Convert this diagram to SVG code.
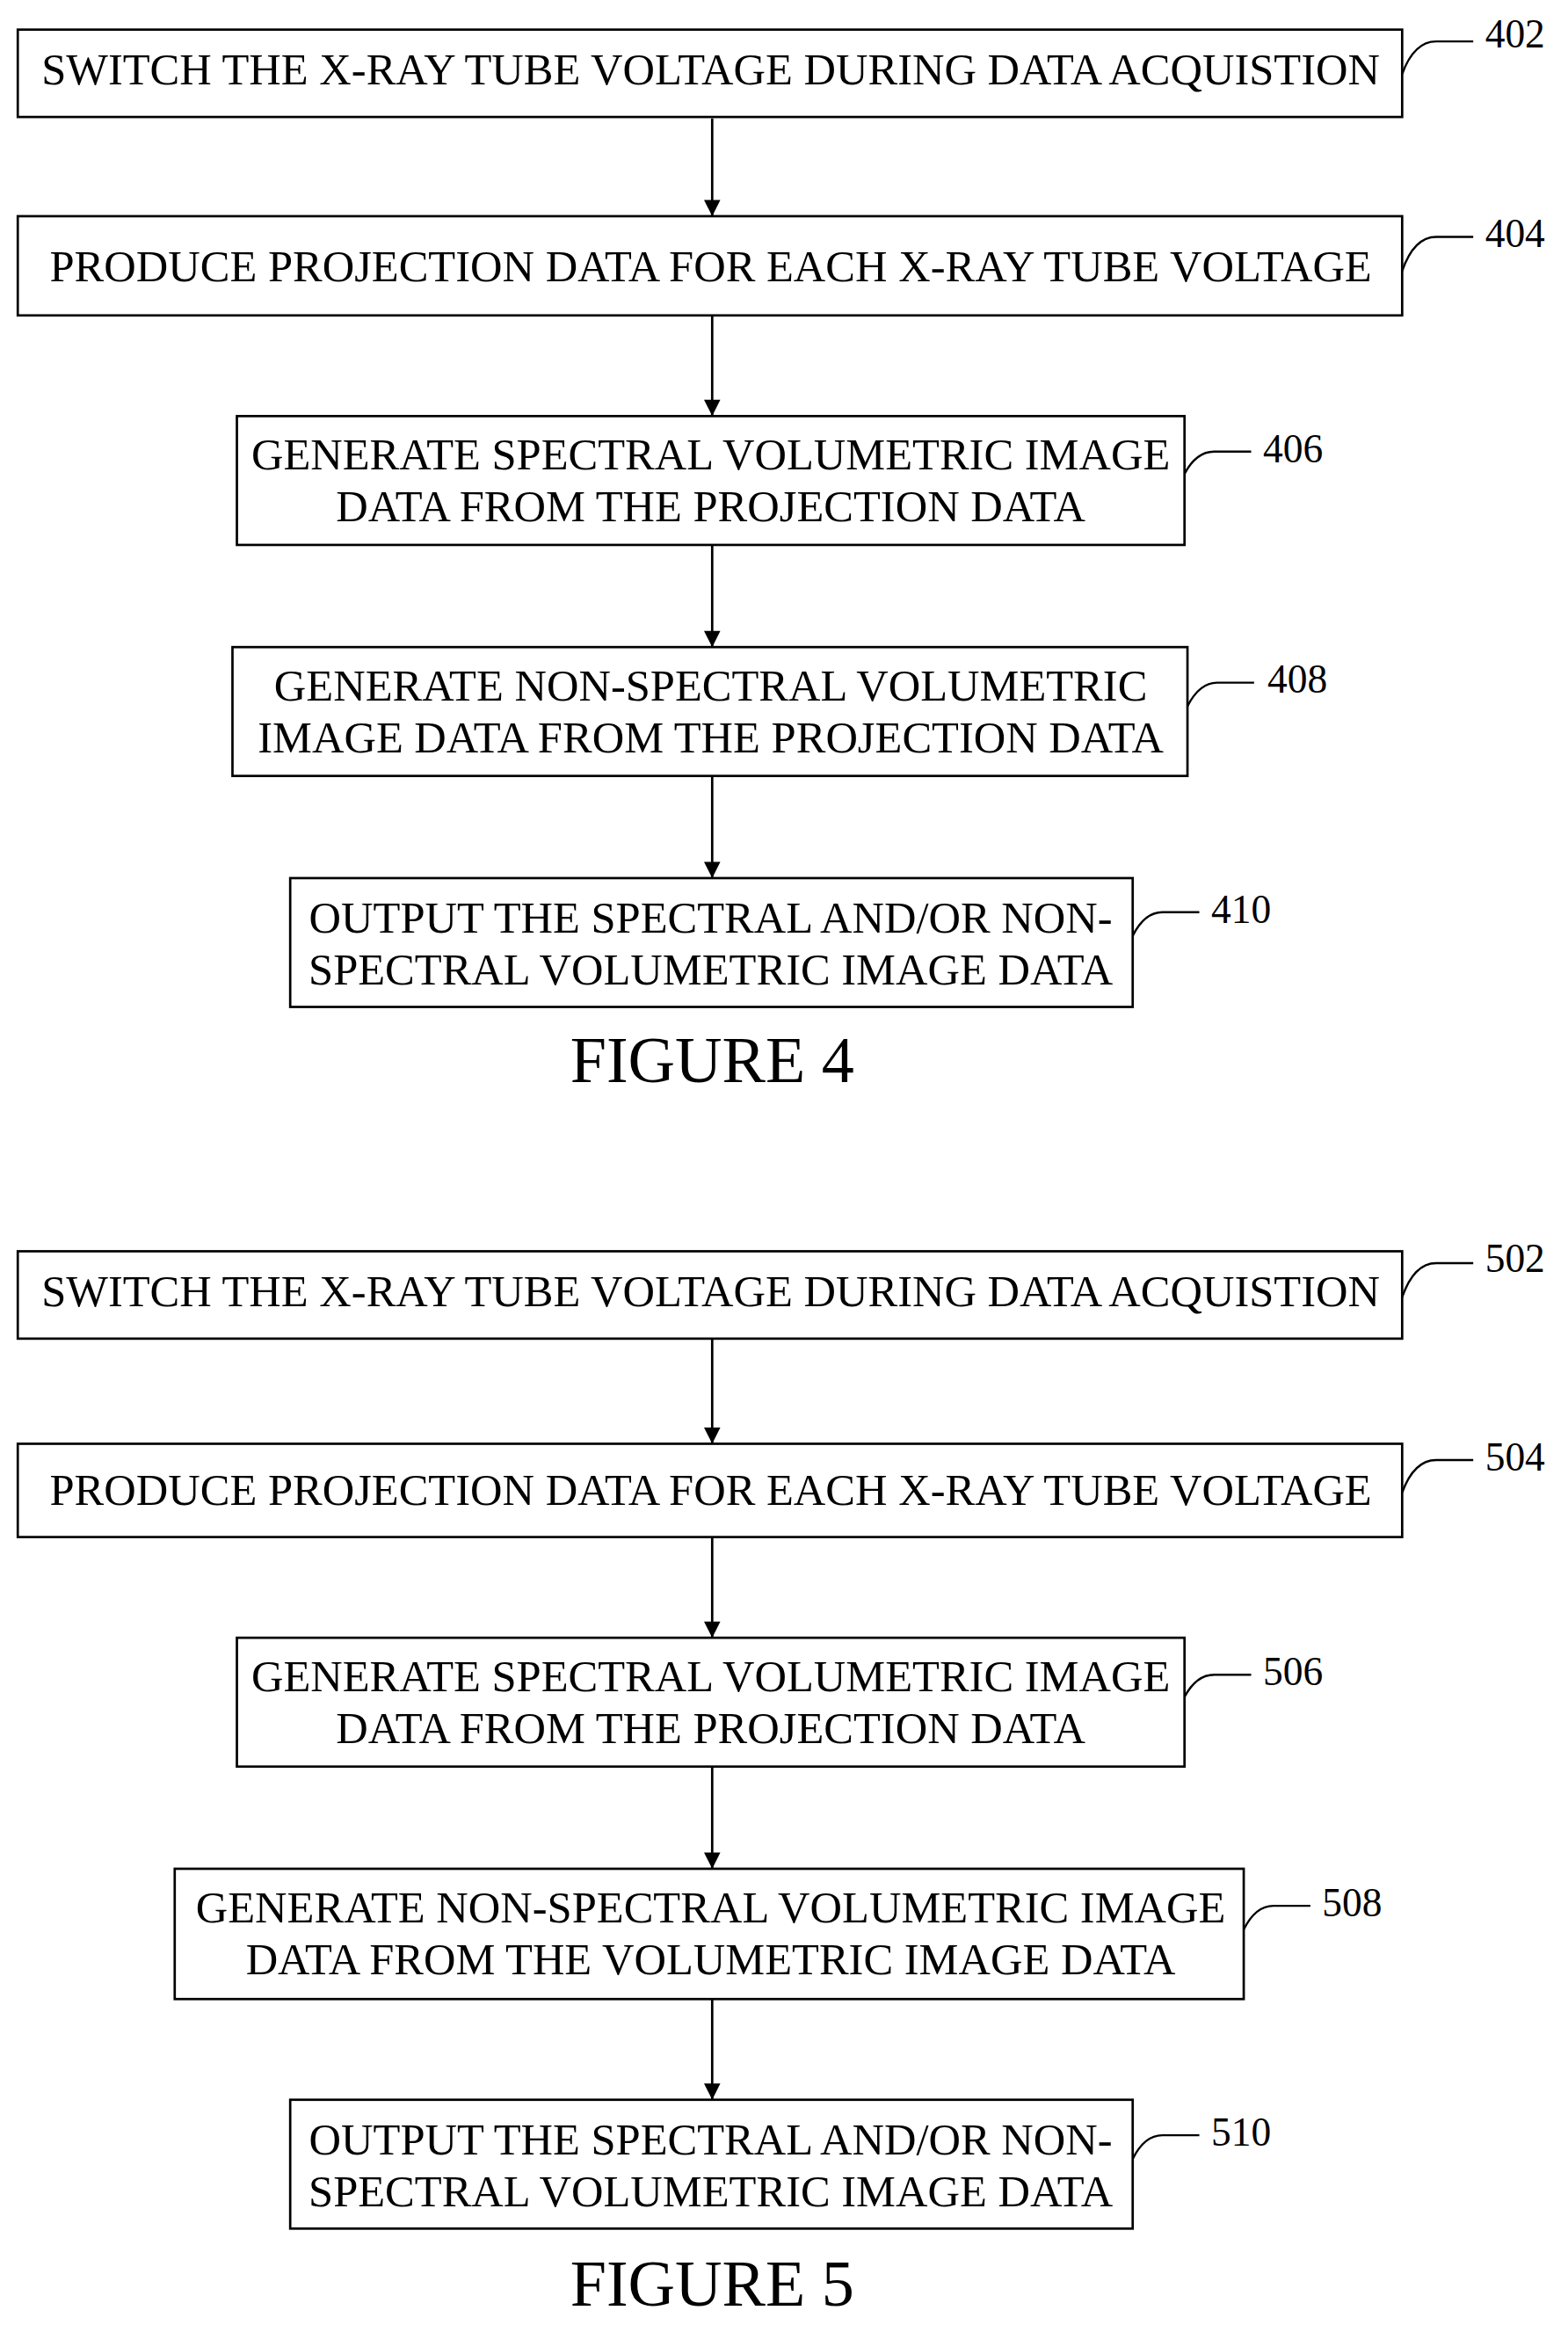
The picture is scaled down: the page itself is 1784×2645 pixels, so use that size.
<svg xmlns="http://www.w3.org/2000/svg" width="1784" height="2645" viewBox="0 0 1784 2645">
<style>
.b{fill:#fff;stroke:#000;stroke-width:1.6}
.t{font-family:"Liberation Serif","Times New Roman",serif;font-size:30px;text-anchor:middle;fill:#000}
.n{font-family:"Liberation Serif","Times New Roman",serif;font-size:27px;fill:#000}
.f{font-family:"Liberation Serif","Times New Roman",serif;font-size:44px;text-anchor:middle;fill:#000}
.c{fill:none;stroke:#000;stroke-width:1.6}
.l{fill:none;stroke:#000;stroke-width:1.4}
</style>
<defs><marker id="a" viewBox="0 0 10 10" refX="10" refY="5" markerWidth="16" markerHeight="11" orient="auto" markerUnits="userSpaceOnUse"><path d="M0,0 L10,5 L0,10 z" fill="#000"/></marker></defs>
<rect width="1784" height="2645" fill="#fff"/>
<g transform="scale(1.6846)">
<g id="connectors">
<path class="c" marker-end="url(#a)" d="M481,80 V146"/>
<path class="c" marker-end="url(#a)" d="M481,213 V281"/>
<path class="c" marker-end="url(#a)" d="M481,368 V437"/>
<path class="c" marker-end="url(#a)" d="M481,524 V593"/>
<path class="c" marker-end="url(#a)" d="M481,904 V975"/>
<path class="c" marker-end="url(#a)" d="M481,1038 V1106"/>
<path class="c" marker-end="url(#a)" d="M481,1193 V1262"/>
<path class="c" marker-end="url(#a)" d="M481,1350 V1418"/>
<path class="l" d="M947,50 Q955,28 970,28 H995 M947,183 Q955,160 970,160 H995 M800,320 Q808,305 820,305 H845 M802,477 Q810,461 822,461 H847 M765,632 Q773,616 785,616 H810"/>
<path class="l" d="M947,876 Q955,853 970,853 H995 M947,1008 Q955,986 970,986 H995 M800,1146 Q808,1131 820,1131 H845 M840,1303 Q848,1287 860,1287 H885 M765,1458 Q773,1442 785,1442 H810"/>
</g>
<g id="n402"><rect class="b" x="12" y="20" width="935" height="59"/><text class="t" x="480" y="57">SWITCH THE X-RAY TUBE VOLTAGE DURING DATA ACQUISTION</text><text class="n" x="1003" y="32">402</text></g>
<g id="n404"><rect class="b" x="12" y="146" width="935" height="67"/><text class="t" x="480" y="190">PRODUCE PROJECTION DATA FOR EACH X-RAY TUBE VOLTAGE</text><text class="n" x="1003" y="167">404</text></g>
<g id="n406"><rect class="b" x="160" y="281" width="640" height="87"/><text class="t" x="480" y="317">GENERATE SPECTRAL VOLUMETRIC IMAGE</text><text class="t" x="480" y="352">DATA FROM THE PROJECTION DATA</text><text class="n" x="853" y="312">406</text></g>
<g id="n408"><rect class="b" x="157" y="437" width="645" height="87"/><text class="t" x="480" y="473">GENERATE NON-SPECTRAL VOLUMETRIC</text><text class="t" x="480" y="508">IMAGE DATA FROM THE PROJECTION DATA</text><text class="n" x="856" y="468">408</text></g>
<g id="n410"><rect class="b" x="196" y="593" width="569" height="87"/><text class="t" x="480" y="630">OUTPUT THE SPECTRAL AND/OR NON-</text><text class="t" x="480" y="665">SPECTRAL VOLUMETRIC IMAGE DATA</text><text class="n" x="818" y="623">410</text></g>
<text class="f" x="481" y="731">FIGURE 4</text>
<g id="n502"><rect class="b" x="12" y="845" width="935" height="59"/><text class="t" x="480" y="882">SWITCH THE X-RAY TUBE VOLTAGE DURING DATA ACQUISTION</text><text class="n" x="1003" y="859">502</text></g>
<g id="n504"><rect class="b" x="12" y="975" width="935" height="63"/><text class="t" x="480" y="1016">PRODUCE PROJECTION DATA FOR EACH X-RAY TUBE VOLTAGE</text><text class="n" x="1003" y="993">504</text></g>
<g id="n506"><rect class="b" x="160" y="1106" width="640" height="87"/><text class="t" x="480" y="1142">GENERATE SPECTRAL VOLUMETRIC IMAGE</text><text class="t" x="480" y="1177">DATA FROM THE PROJECTION DATA</text><text class="n" x="853" y="1138">506</text></g>
<g id="n508"><rect class="b" x="118" y="1262" width="722" height="88"/><text class="t" x="480" y="1298">GENERATE NON-SPECTRAL VOLUMETRIC IMAGE</text><text class="t" x="480" y="1333">DATA FROM THE VOLUMETRIC IMAGE DATA</text><text class="n" x="893" y="1294">508</text></g>
<g id="n510"><rect class="b" x="196" y="1418" width="569" height="87"/><text class="t" x="480" y="1455">OUTPUT THE SPECTRAL AND/OR NON-</text><text class="t" x="480" y="1490">SPECTRAL VOLUMETRIC IMAGE DATA</text><text class="n" x="818" y="1449">510</text></g>
<text class="f" x="481" y="1557">FIGURE 5</text>
</g>
</svg>
